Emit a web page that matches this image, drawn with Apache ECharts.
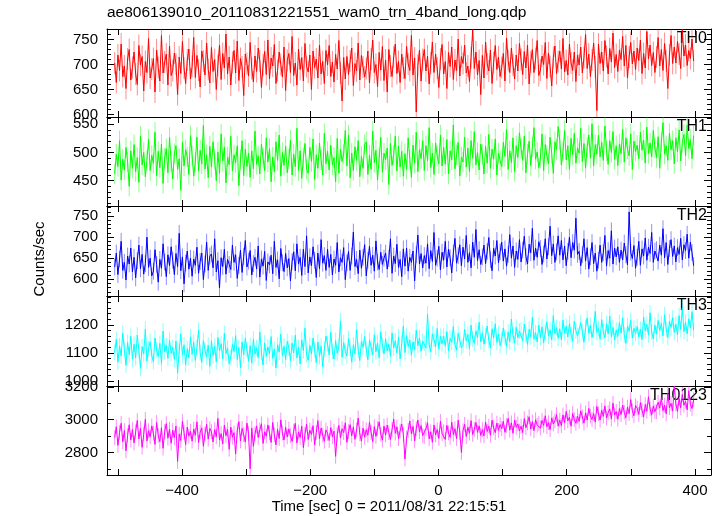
<!DOCTYPE html>
<html><head><meta charset="utf-8">
<script src="https://cdn.jsdelivr.net/npm/echarts@6/dist/echarts.min.js"></script>
<style>html,body{margin:0;padding:0;background:#fff}#c{width:723px;height:516px}</style>
</head><body><div id="c"></div>
<script>
const titleText = 'ae806139010_20110831221551_wam0_trn_4band_long.qdp';
const xLabelText = 'Time [sec] 0 = 2011/08/31 22:15:51';
const yLabelText = 'Counts/sec';
const bandNames = ['TH0', 'TH1', 'TH2', 'TH3', 'TH0123'];
const bandColors = ['#ff0000', '#00ff00', '#0000ff', '#00ffff', '#ff00ff'];
const tStart = -505, tStep = 2.515;

const th0 = [
703,664,719,688,741,676,697,652,711,730,669,694,
725,681,660,738,699,716,647,706,684,752,673,691,
712,645,729,694,667,758,683,705,721,659,737,678,
688,723,701,640,715,682,746,693,662,709,731,671,
696,754,674,718,689,655,727,707,679,743,690,663,
734,686,710,650,698,739,670,722,693,761,681,715,
659,704,728,683,747,668,712,695,638,721,702,677,
744,692,665,717,686,733,707,654,699,726,680,749,
671,713,697,740,662,688,725,700,675,735,648,708,
722,684,756,678,703,659,731,690,714,667,742,696,
685,719,650,727,694,711,673,739,681,706,662,728,
699,738,676,705,665,720,691,748,683,627,714,671,
716,680,707,733,658,702,687,743,669,718,695,675,
692,727,663,711,749,684,700,656,724,689,736,668,
709,645,730,697,676,715,741,682,706,664,721,693,
672,736,701,688,758,679,713,605,698,729,667,710,
730,687,717,661,703,745,684,721,693,654,711,740,
681,706,652,724,696,735,670,709,688,751,677,716,
702,739,683,697,666,714,769,692,725,679,708,640,
718,673,745,701,687,729,662,704,738,690,715,676,
694,722,667,753,708,684,733,699,671,719,687,742,
710,680,726,693,739,661,705,730,684,712,748,678,
689,717,700,744,672,723,696,657,714,737,682,706,
727,691,752,685,708,679,741,703,688,725,666,719,
699,735,683,714,760,692,721,676,709,743,695,608,
741,702,725,687,748,716,681,732,705,763,694,720,
686,729,710,756,697,738,673,715,744,701,727,690,
733,708,749,682,722,693,766,711,739,698,724,684,
715,754,697,730,688,742,707,652,719,758,702,735,
703,746,721,692,770,717,739,698,728,712,751,707];

const th1 = [
462,497,475,521,451,488,469,509,483,440,503,472,
514,466,491,447,529,478,500,457,486,523,468,495,
481,536,459,502,473,515,445,490,507,464,527,484,
453,498,512,470,489,433,518,476,505,492,461,530,
495,458,483,527,467,504,480,548,471,496,455,511,
474,519,488,450,501,463,533,485,509,446,492,478,
529,467,496,482,512,441,487,521,459,506,475,499,
456,503,471,538,479,494,462,515,490,468,526,483,
507,448,492,466,519,486,531,458,500,477,511,464,
488,522,460,497,475,543,468,503,454,491,516,470,
463,509,484,524,452,496,472,517,487,460,534,480,
502,469,513,478,491,448,525,463,506,484,497,539,
476,531,455,499,468,510,486,521,457,493,472,514,
519,461,495,470,538,482,504,451,490,527,465,499,
487,508,443,516,477,495,529,467,511,474,502,458,
498,470,526,488,456,513,481,536,466,505,489,521,
468,512,485,544,473,499,461,517,494,480,531,476,
509,479,523,462,503,487,549,471,496,518,458,492,
483,527,474,508,466,521,490,537,478,500,469,515,
496,462,511,481,532,472,506,488,524,460,499,486,
475,518,493,541,470,503,482,526,466,512,491,535,
507,486,529,464,497,520,477,510,544,488,501,473,
490,533,468,514,495,480,527,498,463,519,505,546,
522,478,501,539,487,512,470,525,496,534,481,508,
499,543,484,516,472,509,531,490,551,476,514,497,
531,492,518,486,547,503,479,521,500,537,488,512,
477,515,498,541,483,526,506,494,533,470,520,502,
513,489,536,504,522,481,545,498,517,492,539,508,
491,528,472,519,553,497,512,486,534,505,521,480,
526,501,540,485,518,532,494,549,507,523,489,530];

const th2 = [
629,662,611,648,690,621,640,598,655,636,674,617,
652,603,644,681,625,659,612,637,700,628,650,608,
619,670,635,593,647,626,684,641,606,658,632,677,
645,611,661,630,709,620,653,589,638,667,624,650,
607,648,633,676,614,642,662,599,636,688,621,655,
660,627,696,617,644,579,651,630,671,612,647,635,
623,681,640,658,602,633,669,616,654,692,629,643,
668,610,637,652,624,679,605,648,631,666,597,641,
634,657,613,690,628,646,601,673,639,618,661,627,
649,596,642,665,620,684,636,652,609,671,630,703,
615,653,632,677,645,604,662,625,694,638,656,621,
671,628,659,610,648,633,687,617,651,640,675,599,
639,666,621,655,712,630,647,613,669,626,652,682,
608,645,678,633,657,619,691,641,623,664,635,650,
662,624,649,696,614,655,637,683,628,647,606,672,
631,674,619,652,640,667,596,658,705,636,661,627,
656,638,684,625,668,642,711,633,650,678,622,664,
645,690,629,671,651,615,662,697,638,656,682,632,
676,648,704,640,663,627,688,652,718,644,670,635,
653,681,637,666,699,646,620,673,655,692,639,665,
688,643,672,631,659,706,650,679,628,667,647,694,
641,669,702,654,636,683,663,721,645,674,652,689,
673,635,660,696,648,677,726,656,684,640,665,703,
657,692,646,679,632,666,700,651,687,669,745,659,
666,632,658,696,643,675,624,653,687,637,662,619,
645,681,640,663,704,631,668,650,715,636,674,653,
677,640,669,646,686,658,634,760,664,649,680,626,
652,690,633,672,655,698,645,676,661,711,640,667,
670,643,681,657,720,651,687,635,673,694,654,679,
641,675,659,697,646,682,668,707,650,688,663,632];

const th3 = [
1102,1148,1067,1125,1089,1171,1113,1056,1137,1094,1159,1078,
1131,1083,1164,1108,1045,1122,1097,1185,1071,1116,1140,1090,
1069,1153,1111,1087,1134,1062,1178,1104,1127,1081,1146,1099,
1120,1077,1142,1029,1106,1168,1092,1129,1058,1115,1083,1157,
1095,1138,1073,1119,1181,1101,1066,1144,1110,1086,1128,1052,
1143,1091,1124,1068,1155,1107,1133,1079,1170,1098,1117,1061,
1085,1130,1105,1162,1076,1119,1047,1139,1093,1152,1112,1070,
1126,1064,1149,1096,1118,1083,1175,1102,1057,1136,1088,1121,
1098,1158,1081,1114,1046,1129,1103,1167,1090,1124,1076,1141,
1117,1072,1135,1100,1163,1082,1120,1061,1147,1108,1188,1094,
1074,1127,1096,1153,1111,1065,1139,1087,1125,1051,1114,1160,
1132,1093,1174,1105,1078,1144,1099,1122,1214,1085,1137,1106,
1089,1151,1116,1067,1129,1097,1183,1110,1073,1141,1120,1158,
1113,1076,1145,1121,1093,1165,1104,1136,1082,1175,1128,1097,
1150,1107,1131,1088,1171,1118,1143,1100,1157,1079,1134,1196,
1101,1162,1123,1146,1092,1139,1112,1181,1126,1153,1106,1142,
1135,1117,1239,1129,1104,1168,1148,1121,1187,1114,1159,1133,
1160,1124,1176,1107,1152,1138,1194,1130,1110,1170,1145,1119,
1127,1185,1143,1166,1116,1199,1150,1134,1179,1155,1210,1139,
1172,1131,1161,1196,1144,1118,1186,1153,1204,1137,1168,1126,
1148,1189,1157,1123,1175,1140,1221,1163,1135,1192,1154,1178,
1181,1143,1203,1165,1130,1184,1158,1227,1149,1172,1139,1199,
1154,1193,1136,1174,1211,1160,1182,1146,1233,1168,1190,1152,
1186,1147,1217,1171,1195,1157,1205,1166,1142,1213,1179,1160,
1162,1208,1176,1138,1191,1224,1170,1198,1155,1183,1248,1173,
1187,1149,1219,1175,1154,1204,1168,1231,1158,1191,1146,1182,
1159,1208,1171,1225,1165,1134,1196,1177,1216,1153,1188,1170,
1194,1157,1185,1148,1228,1179,1202,1164,1243,1175,1150,1199,
1167,1216,1180,1205,1161,1236,1185,1155,1212,1191,1226,1173,
1202,1165,1233,1184,1261,1176,1210,1168,1222,1189,1247,1181];

const th0123 = [
2891,2957,2843,2922,2978,2865,2934,2810,2903,2969,2876,2940,
2858,2926,2995,2882,2947,2831,2911,3002,2870,2933,2895,2962,
2917,2849,2983,2904,2866,2951,2825,2928,2976,2887,2942,2856,
2935,2890,2961,2745,2912,2873,2990,2921,2848,2955,2899,2930,
2869,2943,2905,2987,2861,2924,2950,2838,2913,2972,2881,2946,
2927,2864,2939,2896,3008,2877,2915,2853,2966,2902,2940,2819,
2955,2893,2921,2790,2934,2988,2870,2947,2908,2863,2979,2916,
2700,2949,2837,2913,2962,2892,2938,2975,2855,2926,2899,2968,
2920,2861,2983,2907,2846,2941,2885,2999,2918,2876,2953,2895,
2944,2902,2867,2931,2978,2858,2925,2891,2960,2829,2912,2973,
2879,2936,2910,2963,2847,2922,2994,2883,2949,2906,2868,2938,
2916,2873,2952,2896,2930,2776,2910,2965,2888,2945,2921,2981,
2862,2927,2970,2901,2956,2880,2937,3010,2914,2869,2948,2893,
2939,2905,2984,2923,2866,2958,2898,2946,2987,2912,2875,2961,
2906,2967,2921,2878,2940,3004,2917,2956,2884,2932,2973,2909,
2760,2888,2935,2992,2913,2959,2870,2945,2998,2926,2964,2903,
2898,2944,2981,2883,2926,2862,2968,2907,2940,2886,2990,2915,
2927,2879,2966,2919,2892,2985,2910,2945,2884,2997,2923,2800,
2933,2972,2897,2954,2918,2994,2909,2941,2983,2923,2962,2904,
2939,2901,2986,2928,2961,2905,2997,2950,2921,2979,2935,2970,
2946,2990,2923,2964,3008,2936,2981,2917,2997,2954,2974,2932,
2960,2922,3007,2951,2980,3018,2944,2988,2933,3000,2967,2978,
2949,2996,2965,3024,2957,2982,2939,3011,2974,2993,3031,2961,
2997,2964,3029,2982,3051,2993,3016,2960,3038,3001,2978,3022,
2990,3054,3017,2979,3042,2998,3069,3022,3001,3037,2985,3081,
3035,2998,3058,3021,3084,3010,3043,3066,3004,3101,3029,3050,
3003,3068,3031,3090,3045,3012,3077,3038,3123,3054,3024,3086,
3071,3032,3105,3059,3017,3093,3052,3140,3066,3028,3084,3049,
3048,3107,3071,3134,3055,3089,3036,3161,3073,3100,3053,3204,
3096,3051,3130,3073,3155,3088,3112,3060,3177,3094,3068,3121];

const errHalf = [22, 18, 20, 28, 45];
const yMin = [595, 405, 560, 982, 2662];
const yMax = [771, 563, 774, 1303, 3206];
const yMajor = [[600, 650, 700, 750], [450, 500, 550], [600, 650, 700, 750], [1000, 1100, 1200], [2800, 3000, 3200]];
const yMinorStep = [10, 10, 10, 20, 100];
const xMin = -517, xMax = 425;
const xTicks = [-500, -400, -300, -200, -100, 0, 100, 200, 300, 400];
const xLabels = [-400, -200, 0, 200, 400];

// layout
const panelEdges = [29, 117, 206, 296, 386, 475];
const plotLeft = 107, plotRight = 711;
const FONT = 'Liberation Sans, Arial, Helvetica, sans-serif';

const allSeries = [th0, th1, th2, th3, th0123];
const fmtX = v => (v < 0 ? '\u2212' + Math.abs(v) : String(v));
const fmtY = v => String(v);

const grids = [], xAxes = [], yAxes = [], series = [], graphics = [];
const axisCol = '#000';
for (let k = 0; k < 5; k++) {
  grids.push({left: plotLeft, width: plotRight - plotLeft, top: panelEdges[k], height: panelEdges[k + 1] - panelEdges[k]});
  ['bottom', 'top'].forEach(pos => {
    xAxes.push({
      gridIndex: k, type: 'value', min: xMin, max: xMax, position: pos,
      axisLine: {show: true, onZero: false, lineStyle: {color: axisCol, width: 1}},
      axisTick: {show: true, inside: true, length: 6, customValues: xTicks, lineStyle: {color: axisCol}},
      axisLabel: {show: (k === 4 && pos === 'bottom'), customValues: xLabels, formatter: fmtX,
        fontSize: 15, color: '#000', fontFamily: FONT, margin: 8},
      splitLine: {show: false}
    });
  });
  const minors = [];
  for (let v = Math.ceil(yMin[k] / yMinorStep[k]) * yMinorStep[k]; v <= yMax[k]; v += yMinorStep[k]) {
    if (yMajor[k].indexOf(v) < 0) minors.push(v);
  }
  ['left', 'right'].forEach(pos => {
    yAxes.push({
      gridIndex: k, type: 'value', min: yMin[k], max: yMax[k], position: pos,
      axisLine: {show: true, onZero: false, lineStyle: {color: axisCol, width: 1}},
      axisTick: {show: true, inside: true, length: 7, customValues: yMajor[k], lineStyle: {color: axisCol}},
      axisLabel: {show: pos === 'left', customValues: yMajor[k], formatter: fmtY,
        fontSize: 15, color: '#000', fontFamily: FONT, margin: 9},
      splitLine: {show: false}
    });
    yAxes.push({
      gridIndex: k, type: 'value', min: yMin[k], max: yMax[k], position: pos,
      axisLine: {show: false, onZero: false},
      axisTick: {show: true, inside: true, length: 4, customValues: minors, lineStyle: {color: axisCol}},
      axisLabel: {show: false},
      splitLine: {show: false}
    });
  });
  const vals = allSeries[k];
  const lineData = vals.map((v, i) => [tStart + i * tStep, v]);
  const errData = vals.map((v, i) => [tStart + i * tStep, v, errHalf[k]]);
  const col = bandColors[k];
  series.push({
    type: 'custom', xAxisIndex: 2 * k, yAxisIndex: 4 * k, clip: true, silent: true,
    data: errData, encode: {x: 0, y: 1},
    renderItem: (params, api) => {
      const t = api.value(0), v = api.value(1), e = api.value(2);
      const p1 = api.coord([t, v - e]), p2 = api.coord([t, v + e]);
      return {type: 'line', shape: {x1: p1[0], y1: p1[1], x2: p2[0], y2: p2[1]},
        style: {stroke: col, lineWidth: 1, opacity: 0.45}};
    }
  });
  series.push({
    type: 'line', xAxisIndex: 2 * k, yAxisIndex: 4 * k, data: lineData,
    showSymbol: false, symbol: 'none', clip: true, silent: true,
    lineStyle: {color: col, width: 1}, sampling: null
  });
  graphics.push({
    type: 'text', x: 707, y: panelEdges[k] + 2,
    style: {text: bandNames[k], fill: '#000', font: '16px ' + FONT, textAlign: 'right', textVerticalAlign: 'top'}
  });
}
graphics.push({type: 'text', x: 107, y: 5,
  style: {text: titleText, fill: '#000', font: '15.5px ' + FONT, textAlign: 'left', textVerticalAlign: 'top'}});
graphics.push({type: 'text', x: 389, y: 507,
  style: {text: xLabelText, fill: '#000', font: '15px ' + FONT, textAlign: 'center', textVerticalAlign: 'middle'}});
graphics.push({type: 'text', x: 40, y: 259, rotation: Math.PI / 2,
  style: {text: yLabelText, fill: '#000', font: '15px ' + FONT, textAlign: 'center', textVerticalAlign: 'middle'}});

const chart = echarts.init(document.getElementById('c'), null, {renderer: 'canvas'});
chart.setOption({
  animation: false,
  backgroundColor: '#fff',
  grid: grids, xAxis: xAxes, yAxis: yAxes, series: series, graphic: graphics
});
</script>
</body></html>
